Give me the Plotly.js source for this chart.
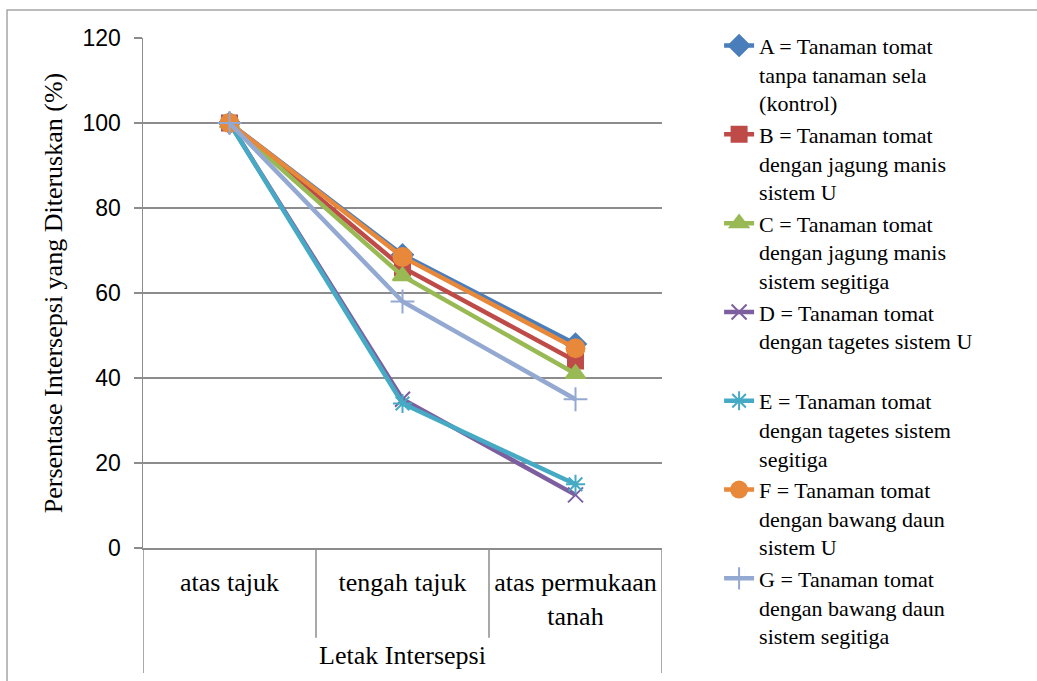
<!DOCTYPE html>
<html>
<head>
<meta charset="utf-8">
<script src="https://cdn.plot.ly/plotly-3.0.1.min.js"></script>
<style>html,body{margin:0;padding:0;background:#fff;}#chart{width:1037px;height:681px;}</style>
</head>
<body>
<div id="chart"></div>
<script>
// ---- data ----
const categories = ["atas tajuk", "tengah tajuk", "atas permukaan<br>tanah"];
const seriesNames = [
  "A = Tanaman tomat<br>tanpa tanaman sela<br>(kontrol)",
  "B = Tanaman tomat<br>dengan jagung manis<br>sistem U",
  "C = Tanaman tomat<br>dengan jagung manis<br>sistem segitiga",
  "D = Tanaman tomat<br>dengan tagetes sistem U<br> ",
  "E = Tanaman tomat<br>dengan tagetes sistem<br>segitiga",
  "F = Tanaman tomat<br>dengan bawang daun<br>sistem U",
  "G = Tanaman tomat<br>dengan bawang daun<br>sistem segitiga"
];
const valuesA = [100, 69, 48];
const valuesB = [100, 66, 44];
const valuesC = [100, 64, 41];
const valuesD = [100, 35, 12.5];
const valuesE = [100, 34, 15];
const valuesF = [100, 68.5, 47];
const valuesG = [100, 58, 35];
const yTicks = [0, 20, 40, 60, 80, 100, 120];

// ---- styles ----
const serifFont = "'Liberation Serif', 'Times New Roman', Tinos, 'DejaVu Serif', serif";
const colors = ["#4A7EBB", "#BE4B48", "#98B954", "#7D5FA0", "#46AAC5", "#E8883A", "#93A9D2"];
const symbols = ["diamond", "square", "triangle-up", "x-thin-open", "asterisk-open", "circle", "cross-thin-open"];
const sizes = [16, 15, 17, 15, 16, 18, 17];
const allValues = [valuesA, valuesB, valuesC, valuesD, valuesE, valuesF, valuesG];

const traces = allValues.map((vals, i) => ({
  type: "scatter",
  mode: "lines+markers",
  x: categories,
  y: vals,
  name: seriesNames[i],
  line: {color: colors[i], width: 4.5},
  marker: {symbol: symbols[i], size: sizes[i], color: colors[i], line: {color: colors[i], width: 2}}
}));

const axisGray = "#8c8c8c";
const shapes = [];
[-0.5, 0.5, 1.5, 2.5].forEach((p, i) => {
  const outer = (i === 0 || i === 3);
  shapes.push({type: "line", xref: "x", yref: "paper", x0: p, x1: p, y0: 0, y1: outer ? -0.245 : -0.176,
    line: {color: axisGray, width: 1.5}});
});
shapes.push({type: "rect", xref: "paper", yref: "paper", x0: -0.262, x1: 1.75, y0: -0.4, y1: 1.0549,
  line: {color: "#a6a6a6", width: 1.5}, fillcolor: "rgba(0,0,0,0)"});

const layout = {
  width: 1037, height: 681,
  margin: {l: 143, r: 375, t: 38, b: 133},
  paper_bgcolor: "#fff", plot_bgcolor: "#fff",
  showlegend: true,
  legend: {
    x: 1.11, xanchor: "left", y: 1.026, yanchor: "top",
    valign: "top",
    maxheight: 680,
    font: {family: serifFont, size: 22, color: "#000"},
    bgcolor: "rgba(0,0,0,0)"
  },
  xaxis: {
    type: "category",
    range: [-0.5, 2.5],
    showgrid: false,
    showline: true, linecolor: axisGray, linewidth: 1.5,
    ticks: "", ticklabelstandoff: 10,
    tickfont: {family: serifFont, size: 26, color: "#000"},
    title: {text: "Letak Intersepsi", standoff: 16,
      font: {family: serifFont, size: 26, color: "#000"}},
    fixedrange: true
  },
  yaxis: {
    range: [0, 120],
    tickvals: yTicks,
    ticktext: yTicks.map(String),
    showgrid: true, gridcolor: axisGray, gridwidth: 1.5,
    showline: true, linecolor: axisGray, linewidth: 1.5,
    ticks: "outside", ticklen: 8, tickcolor: axisGray, tickwidth: 1.5,
    ticklabelstandoff: 8,
    tickfont: {family: "'Liberation Sans', Arial, sans-serif", size: 23, color: "#000"},
    zeroline: false,
    title: {text: "Persentase Intersepsi yang Diteruskan (%)", standoff: 12,
      font: {family: serifFont, size: 26, color: "#000"}},
    fixedrange: true
  },
  shapes: shapes
};

Plotly.newPlot("chart", traces, layout, {displayModeBar: false, staticPlot: true});
</script>
</body>
</html>
